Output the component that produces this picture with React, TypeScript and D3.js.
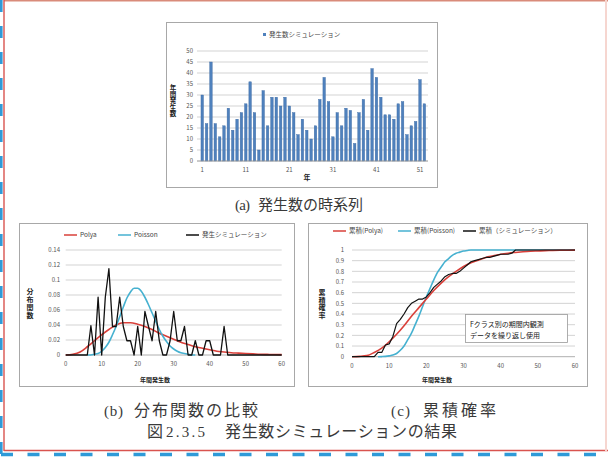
import React from 'react';
import * as d3 from 'd3';

// ---------- DATA ----------
// (a) annual simulated occurrence counts, years 1..52
const years: number[] = d3.range(1, 53);
const annualCounts: number[] = [
  30, 17, 45, 17, 11, 16, 24, 14, 19, 22, 26, 36, 22, 5, 32, 16, 29, 29, 25, 29,
  25, 22, 12, 19, 14, 10, 16, 28, 38, 27, 11, 22, 16, 24, 23, 8, 22, 28, 14, 42,
  38, 29, 21, 21, 19, 26, 27, 12, 16, 18, 37, 26,
];
const yearTickLabels: number[] = [1, 11, 21, 31, 41, 51];
const countTicks: number[] = [0, 5, 10, 15, 20, 25, 30, 35, 40, 45, 50];

// (b) distribution functions
const pmfTicks: number[] = [0, 0.02, 0.04, 0.06, 0.08, 0.1, 0.12, 0.14];
const pmfTickLabels: string[] = ['0', '0.02', '0.04', '0.06', '0.08', '0.1', '0.12', '0.14'];
const xTicks: number[] = [0, 10, 20, 30, 40, 50, 60];

const polyaX: number[] = [0, 2, 4, 6, 8, 10, 12, 14, 16, 18, 20, 22, 24, 26, 28, 30, 32, 34, 36, 38, 40, 42, 44, 46, 48, 50, 52, 54, 56, 58, 60];
const polyaPmf: number[] = [0, 0.001, 0.004, 0.011, 0.019, 0.027, 0.034, 0.04, 0.043, 0.043, 0.041, 0.038, 0.034, 0.029, 0.025, 0.021, 0.017, 0.014, 0.011, 0.009, 0.007, 0.005, 0.004, 0.003, 0.0025, 0.002, 0.0015, 0.001, 0.0008, 0.0006, 0.0005];

const poissonX: number[] = [6, 7, 8, 9, 10, 11, 12, 13, 14, 15, 16, 17, 18, 19, 20, 21, 22, 23, 24, 25, 26, 27, 28, 29, 30, 31, 32, 33, 34, 35, 36];
const poissonPmf: number[] = [0, 0, 0.001, 0.002, 0.005, 0.01, 0.017, 0.027, 0.038, 0.051, 0.064, 0.076, 0.084, 0.089, 0.089, 0.085, 0.077, 0.067, 0.056, 0.045, 0.034, 0.025, 0.018, 0.012, 0.008, 0.005, 0.003, 0.002, 0.001, 0, 0];

const simX: number[] = d3.range(0, 61);
const simPmf: number[] = [
  0, 0, 0, 0, 0, 0, 0, 0.039, 0, 0.077, 0, 0.077, 0.115, 0.038, 0.038, 0.077, 0.038, 0.019, 0.019, 0,
  0.038, 0, 0.058, 0.038, 0.019, 0.058, 0.019, 0, 0, 0.019, 0.058, 0.019, 0.019, 0.038, 0, 0, 0.019, 0, 0, 0.019,
  0.019, 0, 0, 0, 0.038, 0, 0, 0, 0, 0, 0, 0, 0, 0, 0, 0, 0, 0, 0, 0, 0,
];

// (c) cumulative probabilities
const cdfTicks: number[] = [0, 0.1, 0.2, 0.3, 0.4, 0.5, 0.6, 0.7, 0.8, 0.9, 1];
const cdfTickLabels: string[] = ['0', '0.1', '0.2', '0.3', '0.4', '0.5', '0.6', '0.7', '0.8', '0.9', '1'];
const polyaCdf: number[] = [0, 0.003, 0.01, 0.04, 0.08, 0.14, 0.21, 0.29, 0.38, 0.46, 0.54, 0.62, 0.69, 0.75, 0.8, 0.845, 0.88, 0.905, 0.93, 0.945, 0.96, 0.97, 0.977, 0.983, 0.988, 0.991, 0.994, 0.996, 0.997, 0.998, 0.999];
const poissonCdfX: number[] = [7, 8, 9, 10, 11, 12, 13, 14, 15, 16, 17, 18, 19, 20, 21, 22, 23, 24, 25, 26, 27, 28, 29, 30, 31, 32, 36, 40, 44, 48, 52, 56, 60];
const poissonCdf: number[] = [0, 0.001, 0.003, 0.008, 0.015, 0.03, 0.06, 0.1, 0.16, 0.22, 0.3, 0.38, 0.47, 0.56, 0.64, 0.72, 0.79, 0.84, 0.89, 0.92, 0.95, 0.97, 0.98, 0.99, 0.995, 1, 1, 1, 1, 1, 1, 1, 1];
const simCdf: number[] = [
  0, 0, 0, 0, 0, 0, 0, 0.04, 0.04, 0.11, 0.12, 0.19, 0.31, 0.35, 0.4, 0.46, 0.5, 0.52, 0.54, 0.54,
  0.56, 0.6, 0.65, 0.68, 0.71, 0.75, 0.77, 0.78, 0.78, 0.8, 0.83, 0.86, 0.89, 0.9, 0.91, 0.92, 0.93, 0.93, 0.94, 0.95,
  0.96, 0.96, 0.96, 0.97, 1, 1, 1, 1, 1, 1, 1, 1, 1, 1, 1, 1, 1, 1, 1, 1, 1,
];

// ---------- STYLE ----------
const SANS = "'Noto Sans CJK JP', 'Noto Sans', sans-serif";
const SERIF = "'Liberation Serif', 'Noto Sans CJK JP', serif";
const GRID = '#c8c8c8';
const BOX = '#a8a8a8';
const TICK = '#555';
const RED = '#d9403a';
const CYAN = '#46b1d0';
const BLUE = '#4f81bd';
const CAP = '#3a3a3a';

function VText({ x, y, text, size, spacing }: { x: number; y: number; text: string; size: number; spacing: number }) {
  return (
    <text
      x={x}
      y={y}
      fontFamily={SANS}
      fontSize={size}
      fontWeight="bold"
      textAnchor="middle"
      fill="#222"
      letterSpacing={spacing}
      style={{ writingMode: 'vertical-rl', textOrientation: 'upright' } as React.CSSProperties}
    >
      {text}
    </text>
  );
}

function ChartA() {
  const x = d3.scaleBand<number>().domain(years).range([200.1, 426.5]).paddingInner(0.42).paddingOuter(0.2);
  const y = d3.scaleLinear().domain([0, 50]).range([161, 51]);
  const bw = x.bandwidth();
  return (
    <g>
      <rect x={166.5} y={22.5} width={271} height={165} fill="#fff" stroke={BOX} />
      {countTicks.map((t) => (
        <g key={t}>
          <line x1={197} x2={428} y1={y(t)} y2={y(t)} stroke={GRID} strokeWidth={0.8} />
          <text x={193} y={y(t) + 2.2} fontFamily={SANS} fontSize={6} fill={TICK} textAnchor="end">{t}</text>
        </g>
      ))}
      {years.map((yr, i) => (
        <rect key={yr} x={x(yr)} y={y(annualCounts[i])} width={bw} height={y(0) - y(annualCounts[i])} fill={BLUE} stroke="#3c6aa3" strokeWidth={0.4} />
      ))}
      <line x1={197} x2={428} y1={y(0)} y2={y(0)} stroke="#999" strokeWidth={0.8} />
      {yearTickLabels.map((t) => (
        <text key={t} x={(x(t) as number) + bw / 2} y={172} fontFamily={SANS} fontSize={6} fill={TICK} textAnchor="middle">{t}</text>
      ))}
      <text x={307} y={180} fontFamily={SANS} fontSize={7} fontWeight="bold" textAnchor="middle" fill="#222">年</text>
      <VText x={173} y={101} text="年間発生数" size={6.5} spacing={0} />
      <rect x={263} y={33} width={3} height={3} fill={BLUE} />
      <text x={269} y={37.2} fontFamily={SANS} fontSize={6.5} fill="#444">発生数シミュレーション</text>
    </g>
  );
}

function Legend({ items, y }: { items: { x: number; color: string; label: string }[]; y: number }) {
  return (
    <g>
      {items.map((it) => (
        <g key={it.label}>
          <line x1={it.x} x2={it.x + 13} y1={y} y2={y} stroke={it.color} strokeWidth={1.5} />
          <text x={it.x + 16} y={y + 2.3} fontFamily={SANS} fontSize={6.5} fill="#444">{it.label}</text>
        </g>
      ))}
    </g>
  );
}

function ChartB() {
  const x = d3.scaleLinear().domain([0, 60]).range([65.7, 281.7]);
  const y = d3.scaleLinear().domain([0, 0.14]).range([355, 250]);
  const line = d3.line<[number, number]>().x((d) => x(d[0])).y((d) => y(d[1]));
  const smooth = d3.line<[number, number]>().x((d) => x(d[0])).y((d) => y(d[1])).curve(d3.curveMonotoneX);
  const red = polyaX.map((v, i) => [v, polyaPmf[i]] as [number, number]);
  const cyan = poissonX.map((v, i) => [v, poissonPmf[i]] as [number, number]);
  const black = simX.map((v, i) => [v, simPmf[i]] as [number, number]);
  return (
    <g>
      <rect x={19.5} y={223.5} width={275} height={163} fill="#fff" stroke={BOX} />
      {pmfTicks.map((t, i) => (
        <g key={t}>
          <line x1={65.7} x2={281.7} y1={y(t)} y2={y(t)} stroke={t === 0 ? '#999' : GRID} strokeWidth={0.8} />
          <text x={60} y={y(t) + 2.2} fontFamily={SANS} fontSize={6} fill={TICK} textAnchor="end">{pmfTickLabels[i]}</text>
        </g>
      ))}
      {xTicks.map((t) => (
        <text key={t} x={x(t)} y={366} fontFamily={SANS} fontSize={6} fill={TICK} textAnchor="middle">{t}</text>
      ))}
      <path d={smooth(red) ?? ''} fill="none" stroke={RED} strokeWidth={1.6} />
      <path d={smooth(cyan) ?? ''} fill="none" stroke={CYAN} strokeWidth={1.6} />
      <path d={line(black) ?? ''} fill="none" stroke="#111" strokeWidth={1.3} strokeLinejoin="round" />
      <text x={155} y={382} fontFamily={SANS} fontSize={6} fontWeight="bold" textAnchor="middle" fill="#222">年間発生数</text>
      <VText x={30} y={304} text="分布関数" size={7} spacing={1} />
      <Legend y={235} items={[
        { x: 64, color: RED, label: 'Polya' },
        { x: 118, color: CYAN, label: 'Poisson' },
        { x: 186, color: '#111', label: '発生シミュレーション' },
      ]} />
    </g>
  );
}

function ChartC() {
  const x = d3.scaleLinear().domain([0, 60]).range([352, 575]);
  const y = d3.scaleLinear().domain([0, 1]).range([356.7, 250]);
  const line = d3.line<[number, number]>().x((d) => x(d[0])).y((d) => y(d[1]));
  const smooth = d3.line<[number, number]>().x((d) => x(d[0])).y((d) => y(d[1])).curve(d3.curveMonotoneX);
  const red = polyaX.map((v, i) => [v, polyaCdf[i]] as [number, number]);
  const cyan = poissonCdfX.map((v, i) => [v, poissonCdf[i]] as [number, number]);
  const black = simX.map((v, i) => [v, simCdf[i]] as [number, number]);
  return (
    <g>
      <rect x={308.5} y={223.5} width={279} height={163} fill="#fff" stroke={BOX} />
      {cdfTicks.map((t, i) => (
        <g key={t}>
          <line x1={352} x2={575} y1={y(t)} y2={y(t)} stroke={t === 0 ? '#999' : GRID} strokeWidth={0.8} />
          <text x={344} y={y(t) + 2.2} fontFamily={SANS} fontSize={6} fill={TICK} textAnchor="end">{cdfTickLabels[i]}</text>
        </g>
      ))}
      {xTicks.map((t) => (
        <text key={t} x={x(t)} y={368} fontFamily={SANS} fontSize={6} fill={TICK} textAnchor="middle">{t}</text>
      ))}
      <path d={smooth(cyan) ?? ''} fill="none" stroke={CYAN} strokeWidth={1.6} />
      <path d={smooth(red) ?? ''} fill="none" stroke={RED} strokeWidth={1.6} />
      <path d={line(black) ?? ''} fill="none" stroke="#111" strokeWidth={1.2} strokeLinejoin="round" />
      <rect x={465.5} y={314.5} width={102} height={28} fill="#fff" stroke="#999" strokeWidth={0.8} />
      <text x={470} y={326.5} fontFamily={SANS} fontSize={7} fill="#222">Fクラス別の期間内観測</text>
      <text x={470} y={337.5} fontFamily={SANS} fontSize={7} fill="#222">データを繰り返し使用</text>
      <text x={437} y={382} fontFamily={SANS} fontSize={6} fontWeight="bold" textAnchor="middle" fill="#222">年間発生数</text>
      <VText x={322} y={304} text="累積確率" size={7} spacing={0.5} />
      <Legend y={231} items={[
        { x: 333, color: RED, label: '累積(Polya)' },
        { x: 398, color: CYAN, label: '累積(Poisson)' },
        { x: 463, color: '#111', label: '累積（シミュレーション）' },
      ]} />
    </g>
  );
}

function Cap({ x, y, w, text, size }: { x: number; y: number; w: number; text: string; size: number }) {
  return (
    <text x={x} y={y} fontFamily={SERIF} fontSize={size} fill={CAP} textLength={w} lengthAdjust="spacing">{text}</text>
  );
}

export default function App() {
  return (
    <svg width={608} height={457} viewBox="0 0 608 457" style={{ position: 'absolute', left: 0, top: 0, background: '#fff' }}>
      <rect x={0} y={0} width={608} height={457} fill="#fff" />
      {/* outer frame */}
      <line x1={4} x2={608} y1={0.8} y2={0.8} stroke="#d98b7a" strokeWidth={1.6} />
      <line x1={4} x2={4} y1={0} y2={451} stroke="#d9534f" strokeWidth={1.4} />
      <line x1={4} x2={608} y1={450.5} y2={450.5} stroke="#d9534f" strokeWidth={1.4} />
      <line x1={606} x2={606} y1={0} y2={451} stroke="#f6d6d0" strokeWidth={2} />
      <line x1={1.3} x2={1.3} y1={0} y2={457} stroke="#2f9ad8" strokeWidth={2.6} strokeDasharray="12 14" />
      <line x1={0} x2={608} y1={454.5} y2={454.5} stroke="#2f9ad8" strokeWidth={3.5} strokeDasharray="12 14.5" strokeDashoffset={-1} />

      <ChartA />
      <ChartB />
      <ChartC />

      {/* captions */}
      <Cap x={235} y={210} w={15} text="(a)" size={15} />
      <Cap x={258} y={210} w={105} text="発生数の時系列" size={15} />
      <Cap x={104} y={416} w={19} text="(b)" size={15} />
      <Cap x={134} y={416} w={124} text="分布関数の比較" size={16} />
      <Cap x={391} y={416} w={19} text="(c)" size={15} />
      <Cap x={423} y={416} w={73} text="累積確率" size={16} />
      <Cap x={147} y={437} w={16} text="図" size={16} />
      <Cap x={166} y={437} w={39} text="2.3.5" size={15} />
      <Cap x={225} y={437} w={232} text="発生数シミュレーションの結果" size={16} />
    </svg>
  );
}
